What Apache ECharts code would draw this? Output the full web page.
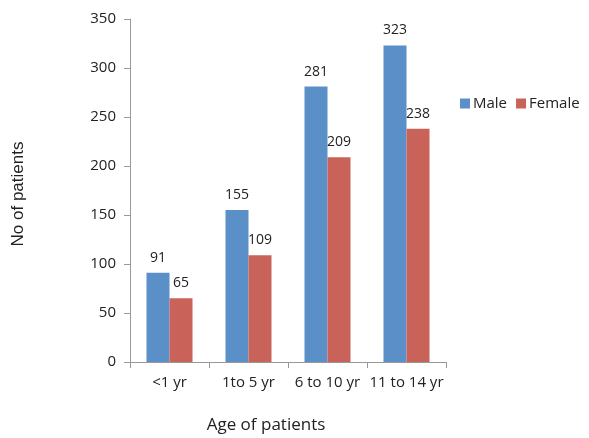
<!DOCTYPE html>
<html><head><meta charset="utf-8">
<script src="https://cdn.jsdelivr.net/npm/echarts@6/dist/echarts.min.js"></script>
<style>html,body{margin:0;padding:0;background:#fff}#c{width:589px;height:438px}</style>
</head><body><div id="c"></div>
<script>
var categories = ['<1 yr', '1to 5 yr', '6 to 10 yr', '11 to 14 yr'];
var male = [91, 155, 281, 323];
var female = [65, 109, 209, 238];
var yTicks = [0, 50, 100, 150, 200, 250, 300, 350];

var font = 'Open Sans';
var chart = echarts.init(document.getElementById('c'));
chart.setOption({
  animation: false,
  grid: {left: 130, top: 19, width: 316, height: 343, containLabel: false, outerBoundsMode: 'none'},
  legend: {
    left: 455, top: 91, itemWidth: 10, itemHeight: 10, itemGap: 9,
    icon: 'rect',
    textStyle: {fontFamily: font, fontSize: 15, color: '#222', padding: [0, 0, 0, -2]},
    data: ['Male', 'Female']
  },
  xAxis: {
    type: 'category', data: categories,
    name: 'Age of patients', nameLocation: 'middle', nameGap: 55,
    nameTextStyle: {fontFamily: font, fontSize: 17, color: '#222', padding: [0, 44, 0, 0]},
    axisLine: {lineStyle: {color: '#999'}},
    axisTick: {show: true, length: 6, lineStyle: {color: '#999'}},
    axisLabel: {fontFamily: font, fontSize: 15, color: '#222', margin: 13, interval: 0}
  },
  yAxis: {
    type: 'value', min: 0, max: 350, interval: 50,
    name: 'No of patients', nameLocation: 'middle', nameGap: 103, nameRotate: 90,
    nameTextStyle: {fontFamily: 'Liberation Sans', fontSize: 17, color: '#222', padding: [0, 7, 0, 0]},
    axisLine: {show: true, lineStyle: {color: '#999'}},
    axisTick: {show: true, length: 6, lineStyle: {color: '#999'}},
    splitLine: {show: false},
    axisLabel: {fontFamily: font, fontSize: 15, color: '#222', margin: 14,
      formatter: function (v) { return yTicks.indexOf(v) >= 0 ? String(v) : ''; }}
  },
  series: [
    {name: 'Male', type: 'bar', data: male, barWidth: 23, barGap: '0%',
     itemStyle: {color: '#5b8fc8'},
     label: {show: true, position: 'top', distance: 8, fontFamily: font, fontSize: 14, color: '#222'}},
    {name: 'Female', type: 'bar', data: female, barWidth: 23, barGap: '0%',
     itemStyle: {color: '#c9635a'},
     label: {show: true, position: 'top', distance: 8, fontFamily: font, fontSize: 14, color: '#222'}}
  ]
});
</script></body></html>
